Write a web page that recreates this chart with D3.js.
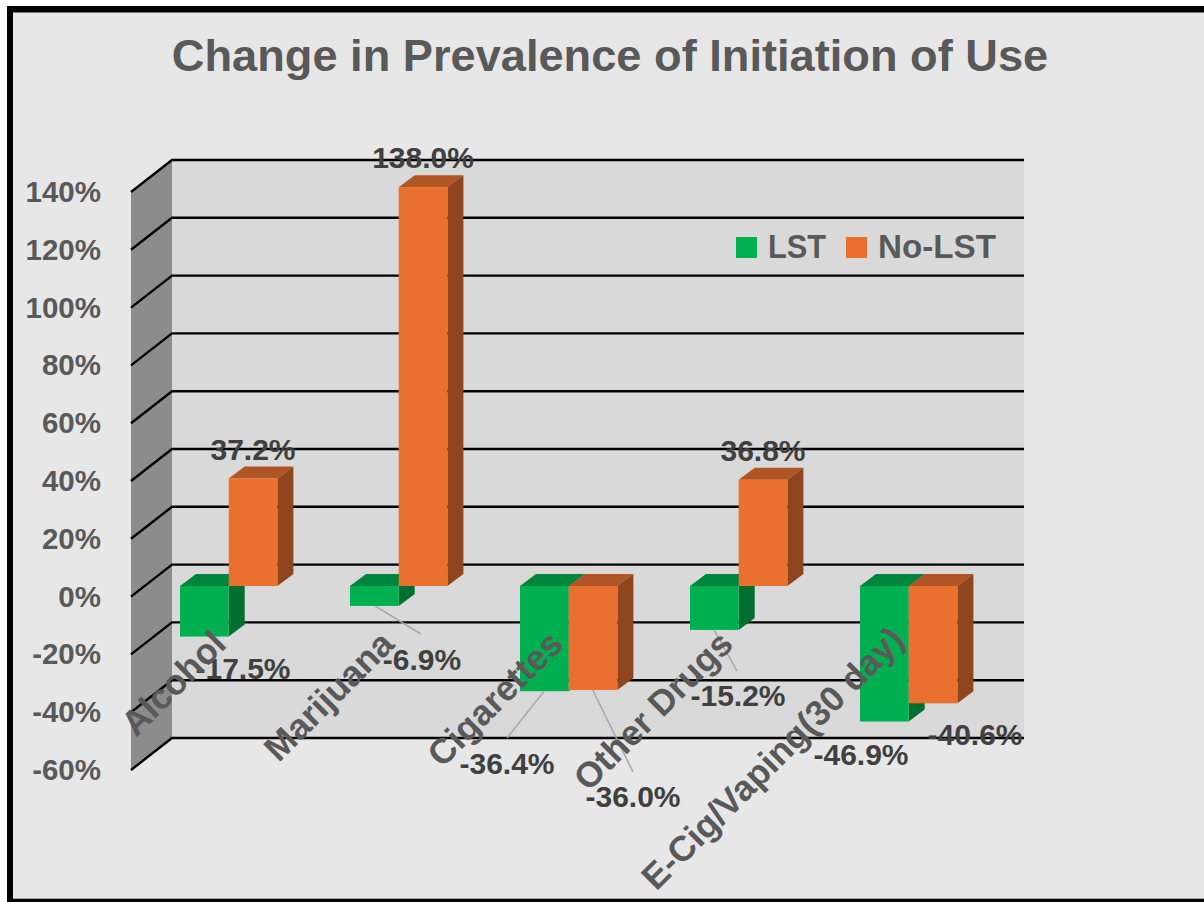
<!DOCTYPE html>
<html>
<head>
<meta charset="utf-8">
<style>
  html, body { margin: 0; padding: 0; background: #ffffff; }
  svg { display: block; }
  text { font-family: "Liberation Sans", Arial, sans-serif; font-weight: 700; }
</style>
<script src="https://cdn.jsdelivr.net/npm/d3@7/dist/d3.min.js"></script>
</head>
<body>
<svg id="chart" width="1204" height="902"></svg>
<script>
// Survey results: change in prevalence, percent
const categories = ["Alcohol", "Marijuana", "Cigarettes", "Other Drugs", "E-Cig/Vaping(30 day)"];
const lstValues = [-17.5, -6.9, -36.4, -15.2, -46.9];
const noLstValues = [37.2, 138.0, -36.0, 36.8, -40.6];
const seriesNames = ["LST", "No-LST"];
const tickValues = [-60, -40, -20, 0, 20, 40, 60, 80, 100, 120, 140];
const titleText = "Change in Prevalence of Initiation of Use";

// Label anchors for each category and value, in page space
const categoryLabelEnds = [[228, 646], [396, 646], [565, 646], [735, 646], [906, 642]];
const lstLabelPos = [[243, 679], [422, 670], [507, 774], [738, 706], [861, 765]];
const noLstLabelPos = [[253, 460], [423, 168], [633, 807], [763, 461], [975, 745]];

const svg = d3.select("#chart");

const colors = {
  page: "#e7e7e7", wall: "#d9d9d9", side: "#8c8c8c", grid: "#000000",
  lst: "#00b050", lstTop: "#00853c", lstSide: "#006f30",
  noLst: "#ea7030", noLstTop: "#b05525", noLstSide: "#8f461e",
  tick: "#595959", value: "#404040", leader: "#a6a6a6"
};

// Vertical scale on the front plane; the back wall and the bars are offset from it
const yFront = d3.scaleLinear().domain([-60, 140]).range([770, 192]);
const wallDx = 41, wallDy = 32;
const barDx = 16, barDy = 12, barPlaneDy = 10.6;
const frontX = 131, wallRight = 1024;

const xCat = d3.scaleBand().domain(categories).range([180, 1030]).paddingInner(0).paddingOuter(0);
const barWidth = 48.7;

// Chart area inside the frame
svg.append("rect").attr("x", 7).attr("y", 6).attr("width", 1197).attr("height", 896).attr("fill", colors.page);

// Back wall and left side wall
svg.append("rect")
  .attr("x", frontX + wallDx).attr("y", yFront(140) - wallDy)
  .attr("width", wallRight - frontX - wallDx).attr("height", yFront(-60) - yFront(140))
  .attr("fill", colors.wall);
svg.append("polygon")
  .attr("points", [
    [frontX, yFront(140)], [frontX + wallDx, yFront(140) - wallDy],
    [frontX + wallDx, yFront(-60) - wallDy], [frontX, yFront(-60)]
  ].join(" "))
  .attr("fill", colors.side);

// Gridlines bend from the side wall onto the back wall
svg.append("g").selectAll("polyline").data(tickValues).join("polyline")
  .attr("points", d => [
    [frontX, yFront(d)], [frontX + wallDx, yFront(d) - wallDy], [wallRight, yFront(d) - wallDy]
  ].join(" "))
  .attr("fill", "none").attr("stroke", colors.grid).attr("stroke-width", 2.4);

// Y axis labels
svg.append("g").selectAll("text").data(tickValues).join("text")
  .attr("x", 101).attr("y", d => yFront(d) + 10)
  .attr("text-anchor", "end").attr("font-size", 29.5).attr("fill", colors.tick)
  .text(d => d + "%");

function drawBar(g, x, value, fills) {
  const y0 = yFront(0) - barPlaneDy;
  const yV = yFront(value) - barPlaneDy;
  const yTop = Math.min(y0, yV);
  const x1 = x + barWidth;
  g.append("polygon")
    .attr("points", [[x, yTop], [x + barDx, yTop - barDy], [x1 + barDx, yTop - barDy], [x1, yTop]].join(" "))
    .attr("fill", fills[1]);
  g.append("polygon")
    .attr("points", [[x1, y0], [x1 + barDx, y0 - barDy], [x1 + barDx, yV - barDy], [x1, yV]].join(" "))
    .attr("fill", fills[2]);
  g.append("rect")
    .attr("x", x).attr("y", yTop).attr("width", barWidth).attr("height", Math.abs(yV - y0))
    .attr("fill", fills[0]);
}

const bars = svg.append("g");
categories.forEach((c, i) => {
  const x = xCat(c);
  drawBar(bars, x, lstValues[i], [colors.lst, colors.lstTop, colors.lstSide]);
  drawBar(bars, x + barWidth, noLstValues[i], [colors.noLst, colors.noLstTop, colors.noLstSide]);
});

// Leader lines from the bars out to the displaced value labels
const barBottom = (v) => yFront(v) - barPlaneDy;
const leaders = [
  { x1: xCat(categories[1]) + 25, v: lstValues[1], x2: 421, y2: 634 },
  { x1: xCat(categories[2]) + 24, v: lstValues[2], x2: 507, y2: 738 },
  { x1: xCat(categories[2]) + barWidth + 24, v: noLstValues[2], x2: 633, y2: 772 },
  { x1: xCat(categories[3]) + 24, v: lstValues[3], x2: 737, y2: 671 }
];
svg.append("g").selectAll("line").data(leaders).join("line")
  .attr("x1", d => d.x1).attr("y1", d => barBottom(d.v))
  .attr("x2", d => d.x2).attr("y2", d => d.y2)
  .attr("stroke", colors.leader).attr("stroke-width", 1.5);

// Value labels
const fmt = v => v.toFixed(1) + "%";
const valueLabels = [];
categories.forEach((c, i) => {
  valueLabels.push({ t: fmt(lstValues[i]), p: lstLabelPos[i] });
  valueLabels.push({ t: fmt(noLstValues[i]), p: noLstLabelPos[i] });
});
svg.append("g").selectAll("text").data(valueLabels).join("text")
  .attr("x", d => d.p[0]).attr("y", d => d.p[1])
  .attr("text-anchor", "middle").attr("font-size", 30).attr("fill", colors.value)
  .text(d => d.t);

// Category labels, rotated and ending near the axis
svg.append("g").selectAll("text").data(categories).join("text")
  .attr("transform", (d, i) => `translate(${categoryLabelEnds[i][0]},${categoryLabelEnds[i][1]}) rotate(-45)`)
  .attr("text-anchor", "end").attr("font-size", 35.5).attr("fill", colors.tick)
  .text(d => d);

// Title
svg.append("text").attr("x", 610).attr("y", 71)
  .attr("text-anchor", "middle").attr("font-size", 45.2).attr("fill", colors.tick)
  .text(titleText);

// Legend
const legend = svg.append("g");
const legendItems = [[736, 768, 58], [846, 878, 118]];
seriesNames.forEach((s, i) => {
  legend.append("rect").attr("x", legendItems[i][0]).attr("y", 237)
    .attr("width", 21).attr("height", 21)
    .attr("fill", i === 0 ? colors.lst : colors.noLst);
  legend.append("text").attr("x", legendItems[i][1]).attr("y", 258)
    .attr("font-size", 33).attr("fill", colors.tick)
    .attr("textLength", legendItems[i][2]).attr("lengthAdjust", "spacingAndGlyphs")
    .text(s);
});

// Outer frame: top, left and bottom edges only
svg.append("rect").attr("x", 7).attr("y", 6).attr("width", 1197).attr("height", 6.5).attr("fill", "#000");
svg.append("rect").attr("x", 7).attr("y", 6).attr("width", 6).attr("height", 896).attr("fill", "#000");
svg.append("rect").attr("x", 13).attr("y", 898).attr("width", 1191).attr("height", 1).attr("fill", "#a6a6a6");
svg.append("rect").attr("x", 7).attr("y", 899).attr("width", 1197).attr("height", 3).attr("fill", "#000");
</script>
</body>
</html>
